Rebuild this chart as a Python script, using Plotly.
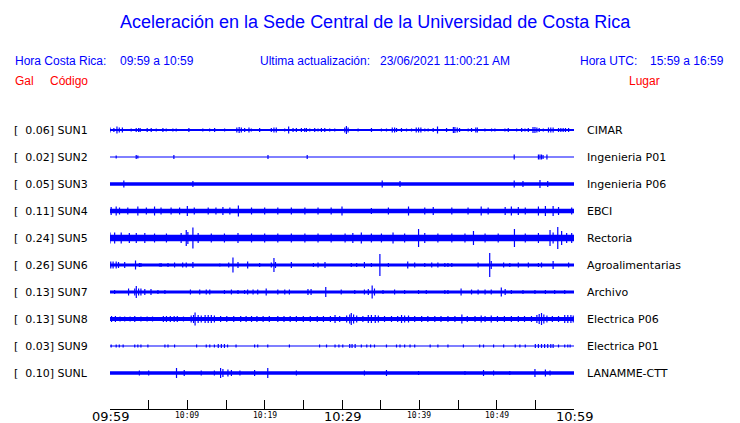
import plotly.graph_objects as go

# ---------------- data ----------------
CODES = ["SUN1", "SUN2", "SUN3", "SUN4", "SUN5", "SUN6", "SUN7", "SUN8", "SUN9", "SUNL"]
GAL = [0.06, 0.02, 0.05, 0.11, 0.24, 0.26, 0.13, 0.13, 0.03, 0.10]
PLACES = ["CIMAR", "Ingenieria P01", "Ingenieria P06", "EBCI", "Rectoria",
          "Agroalimentarias", "Archivo", "Electrica P06", "Electrica P01", "LANAMME-CTT"]
# background noise half-amplitude of every trace (relative units)
BASE_HALF = [1.0, 0.5, 1.7, 2.2, 3.2, 1.5, 1.5, 2.0, 0.6, 1.7]

# minutes after 09:59, half-amplitude (relative units)
SUN1_EVENTS = [(0.0, 2.5), (0.5, 2), (0.9, 3.5), (1.2, 2.5), (1.6, 2.5), (2.74, 1.5), (3.39, 2), (3.7, 2),
               (3.9, 2), (4.81, 2), (5.33, 2), (5.98, 1.5), (6.84, 2), (7.27, 1.5), (8.13, 1.5), (8.56, 1.5),
               (10.2, 2), (12.0, 1.5), (12.88, 1.5), (13.53, 2), (14.82, 1.5), (16.4, 2.5), (16.7, 3),
               (16.98, 2.5), (17.41, 2), (17.97, 2.5), (18.27, 1.5), (19.35, 2), (20.86, 2), (21.2, 2.5),
               (21.5, 2.5), (22.59, 1.5), (23.1, 3.5), (23.67, 2), (24.1, 2), (24.75, 2), (25.18, 2),
               (25.4, 2), (25.83, 1.5), (26.47, 2), (26.9, 1.5), (27.34, 2), (27.77, 2), (28.41, 1.5),
               (29.06, 1.5), (30.36, 2.5), (30.57, 4), (30.79, 2.5), (32.08, 1.5), (33.81, 2), (35.1, 1.5),
               (35.75, 1.5), (36.5, 2.5), (36.8, 2.5), (37.05, 2), (37.69, 2), (38.34, 1.5), (38.99, 1.5),
               (39.6, 2.5), (39.9, 2.5), (40.2, 2.5), (40.71, 1.5), (41.14, 1.5), (41.79, 2), (42.35, 3.5),
               (43.52, 2), (44.4, 3), (44.6, 3), (44.9, 2.5), (45.2, 2), (46.32, 1.5), (46.75, 2),
               (47.3, 2.5), (47.5, 2.5), (48.48, 1.5), (49.34, 1.5), (49.77, 1.5), (51.07, 1.5), (51.5, 2),
               (52.58, 1.5), (53.23, 2), (53.66, 1.5), (54.09, 2), (54.7, 3), (54.95, 3), (55.2, 2.5),
               (55.5, 2), (56.03, 1.5), (56.7, 2.5), (57.0, 2.5), (57.3, 2.5), (58.0, 2), (58.3, 2),
               (58.6, 2), (58.9, 2), (59.3, 2)]
SUN2_EVENTS = [(0.8, 1.5), (3.39, 2), (3.6, 1.5), (8.26, 2), (20.43, 2), (25.5, 2), (52.27, 2.5),
               (55.4, 2.5), (55.6, 2.5), (55.8, 2.5), (56.0, 2), (56.5, 2.5)]
SUN3_EVENTS = [(1.79, 3.5), (10.72, 3), (35.2, 3.5), (37.5, 3), (52.27, 3.5), (53.4, 3), (55.6, 4),
               (56.6, 3)]
SUN4_EVENTS = [(0.15, 4), (0.8, 4.5), (1.23, 3.5), (2.3, 3.5), (3.6, 4.5), (4.7, 3.5), (5.76, 4.5),
               (6.6, 3.5), (7.9, 3.5), (9.0, 3.5), (10.0, 5), (10.9, 3.5), (12.7, 3.5), (13.7, 3.5),
               (14.6, 4), (15.5, 3.5), (16.6, 5.5), (18.3, 3.5), (20.0, 3.5), (21.7, 3.5), (23.45, 3.5),
               (25.2, 3.5), (26.9, 3.5), (28.6, 3.5), (30.0, 4.5), (33.8, 3), (36.0, 3.5), (38.6, 4.5),
               (40.7, 3.5), (41.8, 4), (44.2, 3.5), (46.3, 3.5), (48.0, 4.5), (48.9, 3.5), (51.1, 4),
               (51.9, 4.5), (52.8, 4), (53.7, 3.5), (55.4, 4.5), (56.3, 5), (57.3, 5), (58.0, 4), (59.7, 3.5)]
SUN5_EVENTS = [(0.0, 5.5), (0.6, 5.5), (1.45, 5.5), (2.5, 5), (3.4, 5), (4.5, 5), (5.76, 4.5), (7.3, 4.5),
               (9.2, 5), (9.86, 8), (10.07, 6), (10.72, 10.5), (11.4, 5), (13.1, 4.5), (14.8, 4.5),
               (16.55, 5), (18.3, 4.5), (20.0, 4.5), (21.7, 4.5), (23.45, 4.5), (25.2, 4.5), (26.9, 4.5),
               (28.6, 4.5), (30.4, 4.5), (31.4, 5), (32.5, 5.5), (33.8, 4.5), (35.1, 4.5), (36.6, 5.5),
               (38.1, 4.5), (39.9, 9), (40.7, 5), (42.4, 4.5), (44.2, 4.5), (45.9, 4.5), (47.0, 7),
               (48.5, 4.5), (50.2, 4.5), (52.3, 9), (53.7, 4.5), (55.4, 5), (56.9, 8), (57.3, 5.5),
               (57.9, 11), (58.4, 7), (59.05, 5), (59.7, 5)]
SUN6_EVENTS = [(0.1, 3.5), (0.4, 3.5), (0.8, 3.5), (1.1, 3), (1.9, 3), (3.3, 4.5), (3.8, 2), (4.0, 2),
               (6.4, 1.5), (6.6, 2), (7.5, 2), (8.35, 2.5), (9.4, 2.5), (9.86, 2.5), (10.72, 3), (14.2, 1.5),
               (15.35, 2.5), (15.9, 7.5), (16.55, 3), (17.8, 3.5), (19.35, 2), (20.86, 2.5), (21.2, 7),
               (21.4, 3), (23.45, 3), (26.3, 2), (26.9, 2.5), (27.8, 3), (31.2, 2), (31.9, 2), (32.9, 3),
               (33.8, 2), (34.9, 11), (36.0, 2), (38.5, 3.5), (39.4, 2.5), (40.7, 2), (41.6, 2.5),
               (42.4, 2.5), (43.3, 2), (43.7, 2), (44.2, 2), (47.6, 2.5), (49.1, 12), (49.3, 4), (50.9, 2.5),
               (51.7, 2), (52.8, 2.5), (54.1, 2.5), (55.4, 2), (55.8, 2.5), (57.3, 4), (59.3, 2.5)]
SUN7_EVENTS = [(0.6, 2), (2.4, 3.5), (3.2, 3.5), (3.4, 6), (3.7, 3.5), (4.0, 3.5), (4.5, 3), (5.3, 3),
               (6.2, 2), (7.1, 2), (10.4, 2.5), (11.6, 2.5), (12.45, 2.5), (12.9, 2.5), (14.8, 2),
               (15.7, 2.5), (16.55, 2), (17.4, 2), (17.8, 2.5), (18.5, 2.5), (19.1, 2.5), (20.2, 3.5),
               (21.7, 2.5), (22.6, 2.5), (23.2, 2.5), (25.6, 3), (26.0, 3), (27.9, 5), (29.9, 2.5),
               (31.65, 2), (32.9, 2.5), (33.4, 3), (33.9, 6.5), (34.2, 3.5), (35.3, 2), (36.8, 2.5),
               (38.1, 2), (39.9, 2), (40.9, 2), (43.3, 2), (43.7, 2), (45.4, 3.5), (46.75, 2.5), (47.6, 2.5),
               (48.5, 2.5), (49.3, 2.5), (50.6, 4.5), (51.1, 3), (51.9, 2), (53.4, 2), (54.95, 2),
               (56.3, 2), (57.5, 2), (58.8, 2)]
SUN8_EVENTS = [(0.2, 3), (0.7, 3), (1.3, 2.5), (1.9, 2.5), (2.6, 2.5), (3.2, 3), (4.0, 2.5), (4.8, 2.5),
               (5.5, 2.5), (6.9, 3), (7.3, 3), (7.8, 3), (8.3, 3), (8.7, 3), (9.5, 2.5), (10.5, 3.5),
               (10.8, 4), (11.0, 6.5), (11.4, 4), (11.8, 3.5), (12.3, 4), (12.7, 4), (13.1, 4), (13.5, 3.5),
               (14.3, 3), (15.1, 3), (16.0, 3), (16.9, 3), (17.6, 3), (18.3, 3), (19.0, 3), (19.8, 3),
               (20.6, 3), (21.7, 3), (22.5, 3), (23.3, 3), (24.1, 3), (25.0, 3), (25.9, 3), (26.8, 3),
               (27.6, 3), (28.5, 3), (29.1, 4), (29.7, 3), (30.6, 3.5), (31.0, 4.5), (31.2, 6), (31.5, 4.5),
               (31.9, 3.5), (32.7, 3), (33.4, 4), (33.8, 4), (34.3, 4), (34.7, 3.5), (35.5, 3), (36.4, 3),
               (37.2, 3), (37.7, 4), (38.1, 3.5), (38.6, 3.5), (39.4, 3), (40.3, 3), (41.1, 3), (42.0, 3),
               (42.8, 3), (43.7, 3), (44.6, 3), (45.5, 4.5), (46.2, 3), (47.2, 3), (48.0, 3.5), (48.5, 3),
               (49.3, 3.5), (50.1, 3), (51.0, 3), (51.9, 3), (52.8, 3), (53.6, 3), (54.5, 3), (55.2, 4),
               (55.5, 5), (55.8, 6), (56.1, 4.5), (56.5, 3.5), (57.2, 3), (58.0, 3), (58.8, 4), (59.2, 4),
               (59.6, 4), (59.9, 3.5)]
SUN9_EVENTS = [(0.15, 1.5), (0.8, 1.5), (1.2, 1.5), (1.7, 1.5), (3.2, 1.5), (3.6, 1.5), (4.0, 1.5),
               (4.9, 1.5), (7.1, 1.5), (7.5, 1.5), (8.35, 1.5), (11.2, 1.5), (12.45, 1.5), (12.9, 1.5),
               (13.5, 1.5), (14.0, 2), (14.4, 2), (14.8, 2), (15.2, 1.5), (16.3, 1.5), (18.7, 1.5),
               (19.1, 1.5), (20.4, 1.5), (23.2, 1.5), (27.1, 1.5), (28.0, 1.5), (29.1, 1.5), (29.6, 1.5),
               (30.1, 1.5), (31.0, 2), (31.3, 2), (31.7, 2), (32.5, 1.5), (33.2, 1.5), (33.7, 1.5),
               (34.2, 1.5), (35.75, 1.5), (37.05, 1.5), (37.5, 1.5), (38.1, 1.5), (38.8, 1.5), (39.4, 1.5),
               (41.4, 1.5), (42.4, 1.5), (43.7, 1.5), (45.7, 1.5), (47.8, 1.5), (48.3, 1.5), (49.6, 1.5),
               (50.9, 1.5), (52.4, 1.5), (53.0, 1.5), (53.7, 1.5), (55.0, 2), (55.4, 2), (55.8, 2),
               (56.2, 2), (56.6, 2), (57.0, 2), (57.3, 2), (58.0, 1.5), (58.8, 1.5), (59.2, 1.5), (59.5, 1.5)]
SUNL_EVENTS = [(3.8, 2.5), (5.0, 2.5), (8.6, 5), (9.6, 3), (11.8, 2.5), (13.5, 2.5), (14.3, 5), (14.6, 4),
               (15.25, 3.5), (15.7, 3), (16.8, 2.5), (18.7, 3), (20.4, 5), (24.1, 2.5), (32.9, 2.5),
               (35.75, 3), (39.9, 2), (45.9, 2), (48.3, 3), (49.6, 2.5), (51.7, 2), (54.95, 4), (56.3, 3.5),
               (56.9, 2.5)]
EVENTS = [SUN1_EVENTS, SUN2_EVENTS, SUN3_EVENTS, SUN4_EVENTS, SUN5_EVENTS,
          SUN6_EVENTS, SUN7_EVENTS, SUN8_EVENTS, SUN9_EVENTS, SUNL_EVENTS]

TICK_MIN = [0, 5, 10, 15, 20, 25, 30, 35, 40, 45, 50, 55, 60]
LABEL_MIN = [0, 10, 20, 30, 40, 50, 60]
LABEL_TXT = ["09:59", "10:09", "10:19", "10:29", "10:39", "10:49", "10:59"]
LABEL_BIG = [True, False, False, True, False, False, True]

# ---------------- figure ----------------
W, H = 740, 423
ML, MR, MT, MB = 110, 166, 103, 14
PW, PH = W - ML - MR, H - MT - MB
ROW_PX = 27.0
AMP = 1.0 / ROW_PX   # relative amplitude unit -> row units
BLUE = "#0000FF"
RED = "#FF0000"


def px(x):
    return (x - ML) / PW


def py(y):
    return (H - MB - y) / PH


fig = go.Figure()
for i, code in enumerate(CODES):
    # background noise band
    fig.add_trace(go.Scatter(x=[0, 60], y=[i, i], mode="lines",
                             line=dict(color=BLUE, width=max(1.0, 2 * BASE_HALF[i])),
                             hoverinfo="skip", showlegend=False))
    xs, ys = [], []
    for t, a in EVENTS[i]:
        xs += [t, t, None]
        ys += [i - a * AMP, i + a * AMP, None]
    fig.add_trace(go.Scatter(x=xs, y=ys, mode="lines", line=dict(color=BLUE, width=1.2),
                             hoverinfo="skip", showlegend=False, connectgaps=False))

ann = []
for i, code in enumerate(CODES):
    ann.append(dict(x=px(12), y=i, xref="paper", yref="y", xanchor="left", yanchor="middle",
                    text="[\u00a0\u00a0%.2f] %s" % (GAL[i], code), showarrow=False,
                    font=dict(family="DejaVu Sans", size=11, color="black")))
    ann.append(dict(x=px(585), y=i, xref="paper", yref="y", xanchor="left", yanchor="middle",
                    text=PLACES[i], showarrow=False,
                    font=dict(family="DejaVu Sans", size=11, color="black")))

for m, txt, big in zip(LABEL_MIN, LABEL_TXT, LABEL_BIG):
    if big:
        f = dict(family="DejaVu Sans", size=13, color="black")
    else:
        f = dict(family="DejaVu Sans Mono", size=8, color="black")
    ann.append(dict(x=m, y=py(416.5 if big else 415), xref="x", yref="paper", xanchor="center",
                    yanchor="middle", text=txt, showarrow=False, font=f))

hdr = dict(family="Liberation Sans, Arial", size=12, color=BLUE)
red = dict(family="Liberation Sans, Arial", size=12, color=RED)
for xx, yy, txt, f in [(15, 61, "Hora Costa Rica:", hdr), (120, 61, "09:59 a 10:59", hdr),
                       (260, 61, "Ultima actualización:", hdr), (380, 61, "23/06/2021 11:00:21 AM", hdr),
                       (580, 61, "Hora UTC:", hdr), (650, 61, "15:59 a 16:59", hdr),
                       (15, 81, "Gal", red), (50, 81, "Código", red), (629, 81, "Lugar", red)]:
    ann.append(dict(x=px(xx - 2), y=py(yy), xref="paper", yref="paper", xanchor="left", yanchor="middle",
                    text=txt, showarrow=False, font=f))

ann.append(dict(x=px(375), y=py(22), xref="paper", yref="paper", xanchor="center", yanchor="middle",
                text="Aceleración en la Sede Central de la Universidad de Costa Rica", showarrow=False,
                font=dict(family="Liberation Sans, Arial", size=18, color=BLUE)))

fig.update_layout(
    width=W, height=H, autosize=False,
    margin=dict(l=ML, r=MR, t=MT, b=MB, pad=0),
    paper_bgcolor="white", plot_bgcolor="white",
    annotations=ann,
    xaxis=dict(range=[0, 60], showgrid=False, zeroline=False, showline=True, linecolor="black",
               linewidth=1, ticks="inside", ticklen=9, tickcolor="black", tickwidth=1,
               tickmode="array", tickvals=TICK_MIN, showticklabels=False, fixedrange=True),
    yaxis=dict(range=[-1 + PH / ROW_PX, -1], showgrid=False, zeroline=False, showline=False,
               showticklabels=False, ticks="", fixedrange=True),
)

fig.write_html("out.html", config={"displayModeBar": False},
               post_script="document.body.style.margin='0';")
